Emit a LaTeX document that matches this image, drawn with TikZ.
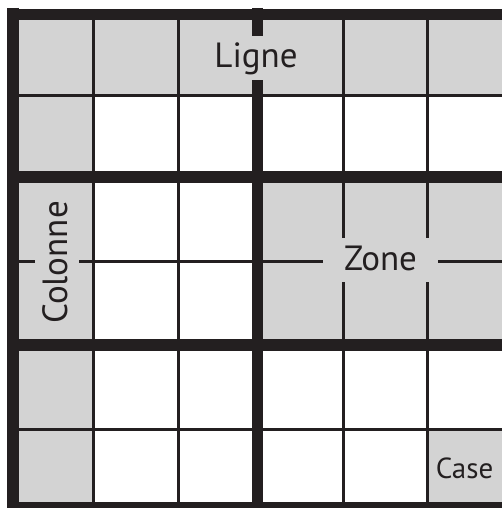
\documentclass[tikz,border=0pt]{standalone}
\usepackage{fontspec}
\setmainfont{PT Sans}
\definecolor{ink}{HTML}{231F20}
\definecolor{cellgray}{HTML}{D3D3D3}
\begin{document}
\begin{tikzpicture}[x=1pt,y=-1pt,
  gridthin/.style={draw=ink, line width=3pt},
  gridthick/.style={draw=ink, line width=11.5pt},
  lbl/.style={font=\fontsize{35}{40}\selectfont, text=ink, fill=cellgray,
    inner ysep=0pt, inner xsep=21pt, text height=32pt, text depth=12pt, anchor=base}]
\useasboundingbox (0,0) rectangle (502,508);
\clip (0,0) rectangle (502,508);
\fill[white] (0,0) rectangle (502,508);
% grey cells
\fill[cellgray] (13,14.5) rectangle (513,96);
\fill[cellgray] (13,14.5) rectangle (93,514);
\fill[cellgray] (257.5,177) rectangle (513,345);
\fill[cellgray] (427,429) rectangle (513,514);
% thin grid lines
\foreach \x in {93,178,343,427} \draw[gridthin] (\x,14.5) -- (\x,508);
\foreach \y in {96,261,429} \draw[gridthin] (13,\y) -- (513,\y);
% thick zone lines and border
\foreach \x in {13,257.5,513} \draw[gridthick] (\x,8) -- (\x,514);
\foreach \y in {14.5,177,345,508} \draw[gridthick] (7,\y) -- (519,\y);
% labels
\node[lbl] (ligne) at (256,68) {Ligne};
\node[lbl] (zone) at (380.5,270) {Zone};
\node[lbl, rotate=90, inner xsep=10pt] (colonne) at (67,262.5) {Colonne};
\node[font=\fontsize{29}{34}\selectfont, text=ink, inner sep=0pt, anchor=base] (case) at (464.5,478) {Case};
\end{tikzpicture}
\end{document}
